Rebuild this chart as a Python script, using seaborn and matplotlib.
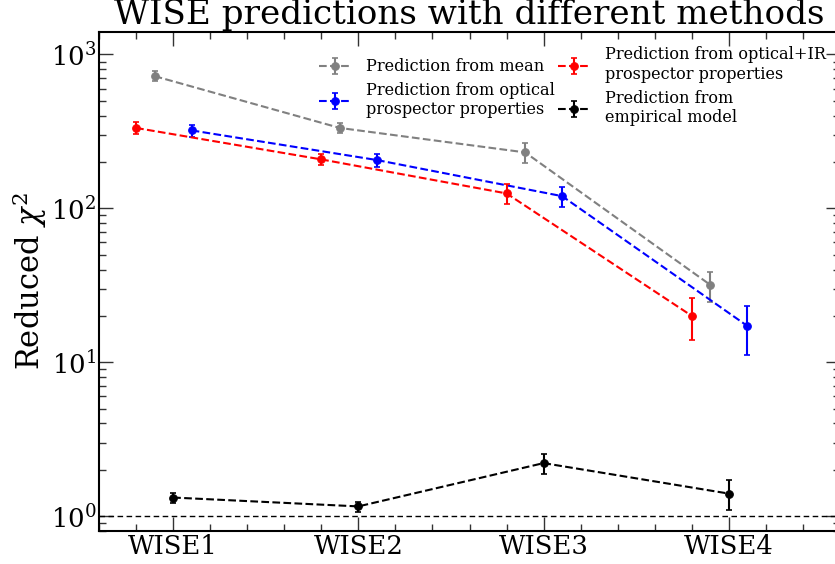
"""
WISE reduced chi^2 for the different prediction methods.
"""

import matplotlib

matplotlib.use("Agg")
import matplotlib.pyplot as plt
import pandas as pd
import seaborn as sns
from matplotlib.legend_handler import HandlerTuple
from matplotlib.ticker import FixedLocator, MultipleLocator

bands = ["WISE1", "WISE2", "WISE3", "WISE4"]
band_pos = [1, 2, 3, 4]

mean_chi2 = [723, 333, 231, 31.8]
mean_err = [53, 23, 35, 7.0]

optical_chi2 = [321, 206, 120, 17.2]
optical_err = [28, 19, 18, 6.0]

optir_chi2 = [333, 208, 125, 20.0]
optir_err = [30, 18, 19, 6.0]

empirical_chi2 = [1.32, 1.156, 2.21, 1.40]
empirical_err = [0.10, 0.085, 0.33, 0.31]

methods = {
    "Prediction from mean": (mean_chi2, mean_err),
    "Prediction from optical\nprospector properties": (optical_chi2, optical_err),
    "Prediction from optical+IR\nprospector properties": (optir_chi2, optir_err),
    "Prediction from\nempirical model": (empirical_chi2, empirical_err),
}
# horizontal shift so the points don't overlap, and colour for each method
offsets = [-0.1, 0.1, -0.2, 0.0]
colors = ["gray", "blue", "red", "black"]

sns.set_style("ticks")
plt.rcParams["font.family"] = ["DejaVu Serif"]
plt.rcParams["mathtext.fontset"] = "dejavuserif"
for key in ("text.color", "axes.labelcolor", "xtick.color", "ytick.color"):
    plt.rcParams[key] = "black"

fig = plt.figure(figsize=(8.35, 5.64), dpi=100)
ax = fig.add_axes([0.1186, 0.0585, 0.8874, 0.8848])

handles = []
for (label, (vals, errs)), off, c in zip(methods.items(), offsets, colors):
    df = pd.DataFrame({"x": [p + off for p in band_pos], "chi2": vals})
    sns.lineplot(data=df, x="x", y="chi2", ax=ax, color=c, linestyle="--",
                 linewidth=1.5, marker="o", markersize=5.5, markeredgecolor=c,
                 estimator=None, sort=False, legend=False)
    line = ax.lines[-1]
    eb = ax.errorbar(df["x"], df["chi2"], yerr=errs, fmt="none", ecolor=c,
                     elinewidth=1.5, capsize=2.5, capthick=1.2)
    handles.append((line, eb))

ax.axhline(1.0, color="black", linestyle="--", linewidth=1.0, dashes=(4, 2.5))

ax.set_yscale("log")
ax.set_ylim(0.8, 1400)
ax.set_xlim(0.6, 4.6)
ax.xaxis.set_major_locator(FixedLocator(band_pos))
ax.set_xticklabels(bands)
ax.xaxis.set_minor_locator(MultipleLocator(0.2))

ax.set_xlabel("")
ax.set_ylabel(r"Reduced $\chi^2$", fontsize=22, labelpad=1)
ax.set_title("WISE predictions with different methods", fontsize=24.6)

ax.tick_params(which="both", direction="in", top=True, right=True,
               labelsize=18.6, color="0.2", pad=2)
ax.tick_params(which="major", length=10, width=1)
ax.tick_params(which="minor", length=5, width=1)
for s in ax.spines.values():
    s.set_linewidth(1.5)
    s.set_color("black")

ax.legend(handles, list(methods.keys()), ncol=2, loc="upper right",
          frameon=False, fontsize=11.6, handlelength=2, handletextpad=0.9,
          columnspacing=0.2, labelspacing=0.4,
          handler_map={tuple: HandlerTuple(ndivide=1)})

fig.savefig("out.png", dpi=100)
